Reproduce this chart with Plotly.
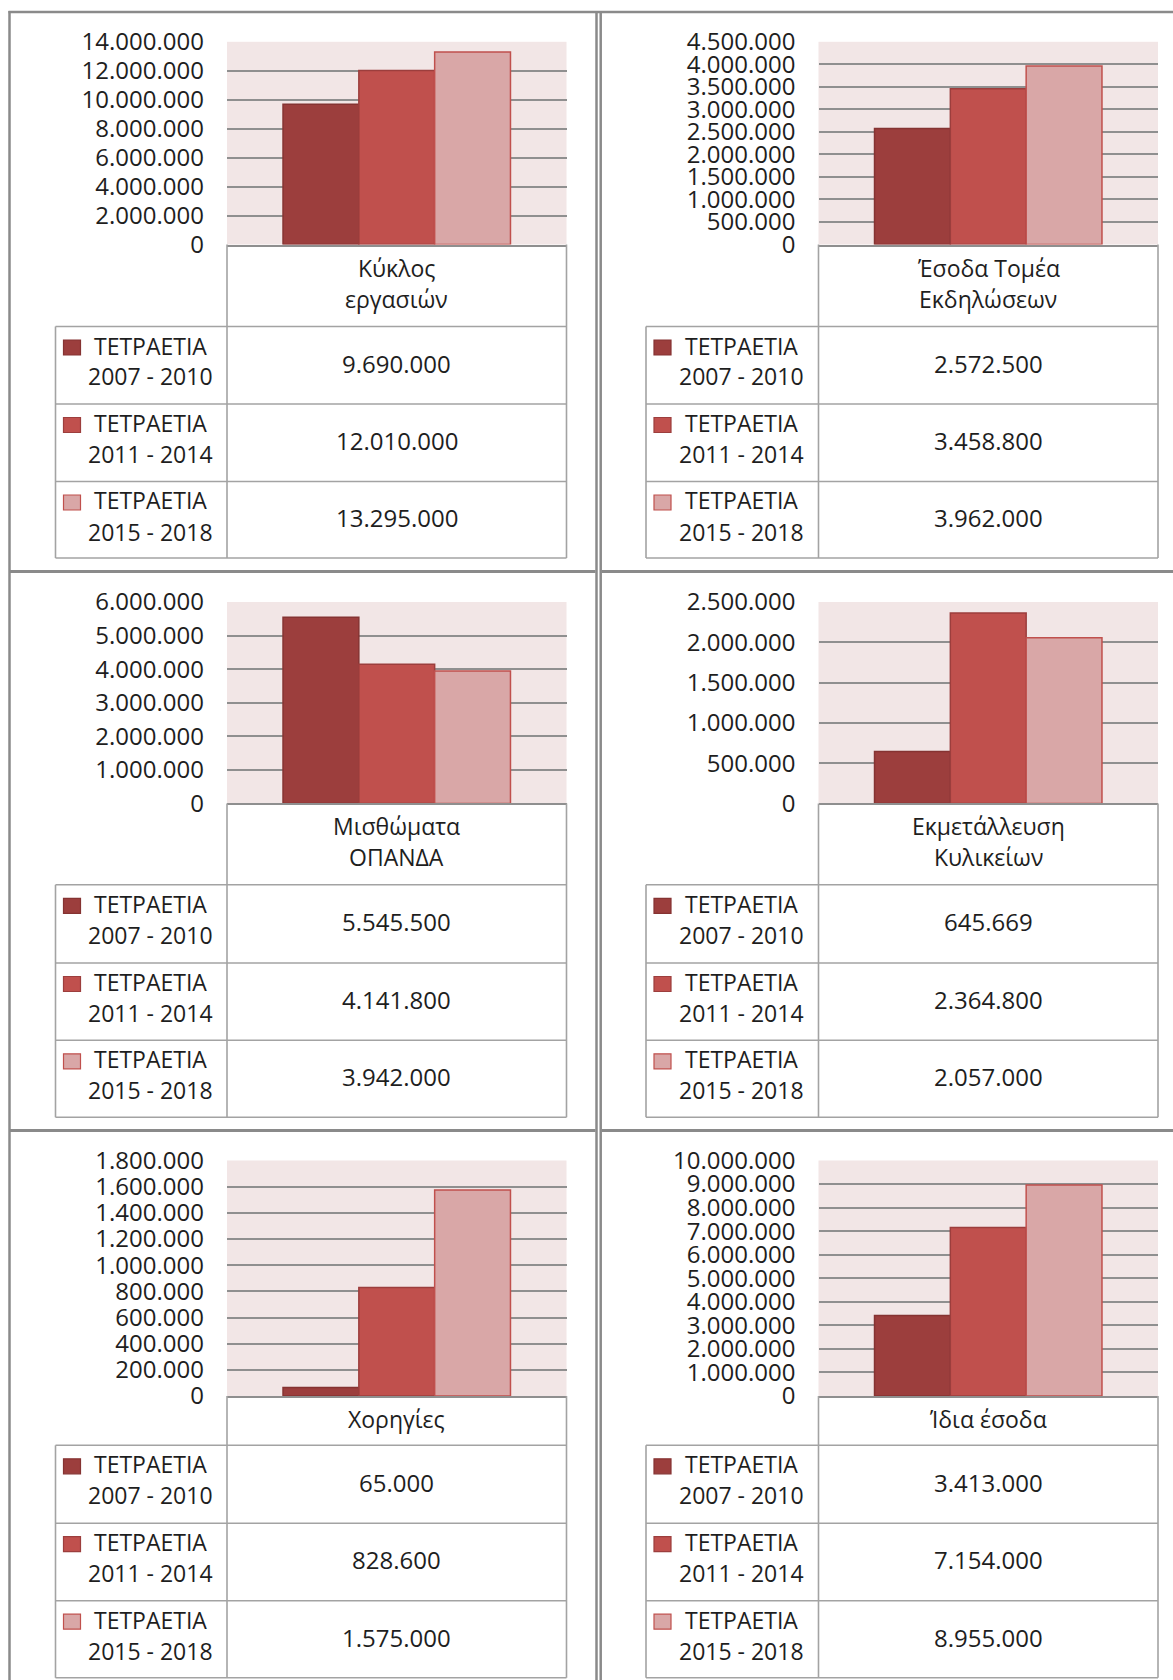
import plotly.graph_objects as go

# ---------------- data ----------------
categories = ["Κύκλος\nεργασιών", "Έσοδα Τομέα\nΕκδηλώσεων", "Μισθώματα\nΟΠΑΝΔΑ",
              "Εκμετάλλευση\nΚυλικείων", "Χορηγίες", "Ίδια έσοδα"]
series_names = ["ΤΕΤΡΑΕΤΙΑ\n2007 - 2010", "ΤΕΤΡΑΕΤΙΑ\n2011 - 2014", "ΤΕΤΡΑΕΤΙΑ\n2015 - 2018"]
values_2007_2010 = [9690000, 2572500, 5545500, 645669, 65000, 3413000]
values_2011_2014 = [12010000, 3458800, 4141800, 2364800, 828600, 7154000]
values_2015_2018 = [13295000, 3962000, 3942000, 2057000, 1575000, 8955000]
axis_max = [14000000, 4500000, 6000000, 2500000, 1800000, 10000000]
axis_step = [2000000, 500000, 1000000, 500000, 200000, 1000000]

series_values = [values_2007_2010, values_2011_2014, values_2015_2018]

# ---------------- style / layout ----------------
W, H = 1173, 1680
FONT = "Open Sans"
FS = 23      # text
FSN = 24     # numbers
TXT = "#1e1e1e"
fill_colors = ["#9C3E3D", "#C0504D", "#D9A7A7"]
edge_colors = ["#853332", "#9C3E3D", "#C0504D"]
PLOT_BG = "#F2E6E6"
GRID = "#8f8f8f"
TABLE_LINE = "#a3a3a3"
BORDER = "#8a8a8a"
DY = -2  # vertical nudge for texts

cols = [dict(tx0=55.5, px0=227.0, px1=566.5),
        dict(tx0=646.0, px0=818.5, px1=1158.0)]
rows = [dict(py0=41.8, py1=244.5, ly1=326.5, rb=[404.0, 481.5, 558.0]),
        dict(py0=602.0, py1=803.4, ly1=884.8, rb=[963.0, 1040.3, 1117.3]),
        dict(py0=1160.5, py1=1396.0, ly1=1445.3, rb=[1523.2, 1600.7, 1677.8])]


def px(x):
    return x / W


def py(y):
    return 1 - y / H


def fmt(v):
    return f"{v:,}".replace(",", ".")


fig = go.Figure()
shapes = []
annotations = []


def line(x0, y0, x1, y1, color=TABLE_LINE, width=1.6):
    shapes.append(dict(type="line", xref="paper", yref="paper",
                       x0=px(x0), y0=py(y0), x1=px(x1), y1=py(y1),
                       line=dict(color=color, width=width)))


for i, cat in enumerate(categories):
    r, c = divmod(i, 2)
    col, row = cols[c], rows[r]
    n = i + 1
    xname = "x" if n == 1 else f"x{n}"
    yname = "y" if n == 1 else f"y{n}"
    cat_key = cat.replace("\n", " ")
    for s in range(3):
        fig.add_trace(go.Bar(
            x=[cat_key], y=[series_values[s][i]],
            name=series_names[s].replace("\n", " "),
            marker=dict(color=fill_colors[s], line=dict(color=edge_colors[s], width=1.5)),
            xaxis=xname, yaxis=yname, showlegend=False, hoverinfo="skip",
        ))
    xk = "xaxis" if n == 1 else f"xaxis{n}"
    yk = "yaxis" if n == 1 else f"yaxis{n}"
    fig.update_layout(**{
        xk: dict(domain=[px(col["px0"]), px(col["px1"])], anchor=yname,
                 showticklabels=False, showgrid=False, zeroline=False,
                 showline=True, linecolor=GRID, linewidth=2, ticks="",
                 fixedrange=True, automargin=False),
        yk: dict(domain=[py(row["py1"]), py(row["py0"])], anchor=xname,
                 range=[0, axis_max[i]], tick0=0, dtick=axis_step[i],
                 tickformat=",d", showgrid=True, gridcolor=GRID, gridwidth=2,
                 zeroline=False, showline=False, ticks="",
                 ticklabelstandoff=22, automargin=False,
                 tickfont=dict(family=FONT, size=FSN, color=TXT),
                 fixedrange=True),
    })

    bottom = row["rb"][-1]

    # table grid
    line(col["px0"], row["py1"], col["px0"], bottom)
    line(col["px1"], row["py1"], col["px1"], bottom)
    line(col["tx0"], row["ly1"], col["tx0"], bottom)
    line(col["tx0"], row["ly1"], col["px1"], row["ly1"])
    for yb in row["rb"]:
        line(col["tx0"], yb, col["px1"], yb)

    cx = (col["px0"] + col["px1"]) / 2
    # category label
    lines = cat.split("\n")
    if len(lines) == 1:
        centers = [(row["py1"] + row["ly1"]) / 2]
    else:
        centers = [row["py1"] + 25, row["py1"] + 56]
    for t, yc in zip(lines, centers):
        annotations.append(dict(text=t, xref="paper", yref="paper", x=px(cx), y=py(yc + DY),
                                xanchor="center", yanchor="middle", showarrow=False,
                                font=dict(family=FONT, size=FS, color=TXT)))

    # data rows
    tops = [row["ly1"]] + row["rb"][:-1]
    for s in range(3):
        top, bot = tops[s], row["rb"][s]
        shapes.append(dict(type="rect", xref="paper", yref="paper",
                           x0=px(col["tx0"] + 8), x1=px(col["tx0"] + 25),
                           y0=py(top + 28.5), y1=py(top + 13.5),
                           fillcolor=fill_colors[s],
                           line=dict(color=edge_colors[s], width=1.2)))
        l1, l2 = series_names[s].split("\n")
        for t, yc in ((l1, top + 21), (l2, top + 52)):
            annotations.append(dict(text=t, xref="paper", yref="paper",
                                    x=px(col["tx0"] + 95), y=py(yc + DY),
                                    xanchor="center", yanchor="middle", showarrow=False,
                                    font=dict(family=FONT, size=FS, color=TXT)))
        annotations.append(dict(text=fmt(series_values[s][i]), xref="paper", yref="paper",
                                x=px(cx), y=py((top + bot) / 2 + DY),
                                xanchor="center", yanchor="middle", showarrow=False,
                                font=dict(family=FONT, size=FSN, color=TXT)))


# outer panel borders
def bline(x0, y0, x1, y1, width=2.5):
    shapes.append(dict(type="line", xref="paper", yref="paper",
                       x0=px(x0), y0=py(y0), x1=px(x1), y1=py(y1),
                       line=dict(color=BORDER, width=width)))


bline(8.5, 12, W + 5, 12)
bline(9.5, 11, 9.5, H + 5)
bline(596.5, 12, 596.5, H + 5)
bline(600.7, 12, 600.7, H + 5)
bline(9, 571.5, 595.5, 571.5, 3)
bline(601.7, 571.5, W + 5, 571.5, 3)
bline(9, 1130.5, 595.5, 1130.5, 3)
bline(601.7, 1130.5, W + 5, 1130.5, 3)

fig.update_layout(
    width=W, height=H,
    margin=dict(l=0, r=0, t=0, b=0, pad=0, autoexpand=False),
    paper_bgcolor="white",
    plot_bgcolor=PLOT_BG,
    barmode="group", bargap=0.33, bargroupgap=0,
    separators=",.",
    font=dict(family=FONT, size=FS, color=TXT),
    shapes=shapes, annotations=annotations,
    showlegend=False,
)

fig.write_html(
    "out.html",
    config={"displayModeBar": False},
    post_script="document.body.style.margin='0';document.body.style.padding='0';"
                "document.documentElement.style.overflow='hidden';",
)
